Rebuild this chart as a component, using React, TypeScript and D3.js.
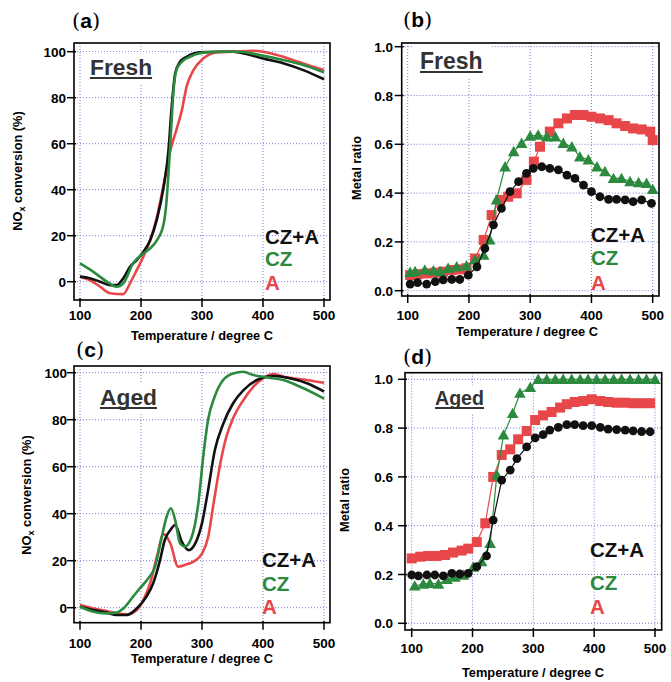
import React from "react";
import * as d3 from "d3";

// temperature ticks shared by all panels
const tempTicks = [100, 200, 300, 400, 500];
const noxTicks = [0, 20, 40, 60, 80, 100];
const ratioTicks = [0, 0.2, 0.4, 0.6, 0.8, 1.0];
const legendNames = ["CZ+A", "CZ", "A"];

// (a) fresh NOx conversion
const freshNoxCZA = [[100,2.2],[116,1.5],[133,0],[149,-1.5],[160,-1.5],[171,1.5],[182,6.5],[193,9.4],[204,13],[215,18],[226,27],[237,41],[245,57],[250,75],[256,90.5],[264,95.6],[275,97.8],[297,99.7],[324,100],[351,100],[373,99],[400,97],[433,95],[466,92],[500,88]];
const freshNoxCZ = [[100,8],[122,4.3],[144,0],[160,-2.2],[171,-0.7],[187,8],[204,12.3],[215,14.5],[226,18],[237,25],[242,35.5],[245,47],[249,64.5],[253,82],[258,92],[267,95.6],[280,97.8],[302,99.6],[330,100],[362,100],[395,98.5],[433,96.4],[466,94.2],[500,91]];
const freshNoxA = [[100,2.2],[116,0.7],[133,-2.2],[149,-5],[171,-5.4],[182,-0.7],[193,5],[204,11],[215,18],[226,28],[237,42],[248,57],[258,66],[267,74.6],[275,85],[286,92],[302,97],[324,99.7],[351,100],[384,100.4],[417,99],[449,96.4],[482,93.5],[500,92]];

// (b) fresh metal ratio
const freshRatioCZA = [[104,0.027],[116,0.033],[131,0.027],[145,0.037],[158,0.044],[172,0.046],[185,0.046],[199,0.064],[213,0.098],[226,0.173],[240,0.27],[253,0.337],[267,0.406],[281,0.447],[294,0.481],[305,0.501],[319,0.508],[332,0.501],[346,0.495],[360,0.474],[373,0.46],[387,0.433],[400,0.406],[414,0.385],[428,0.374],[441,0.374],[455,0.372],[468,0.365],[482,0.372],[498,0.358]];
const freshRatioCZ = [[104,0.075],[112,0.078],[128,0.085],[142,0.082],[153,0.078],[166,0.092],[180,0.098],[196,0.102],[210,0.126],[224,0.146],[234,0.208],[245,0.372],[259,0.508],[273,0.57],[286,0.604],[300,0.634],[313,0.638],[327,0.631],[341,0.631],[354,0.604],[368,0.59],[381,0.549],[395,0.536],[409,0.508],[422,0.488],[436,0.46],[449,0.46],[463,0.447],[477,0.443],[490,0.44],[500,0.415]];
const freshRatioA = [[104,0.064],[117,0.068],[131,0.071],[145,0.074],[158,0.078],[172,0.085],[185,0.087],[196,0.092],[210,0.132],[224,0.208],[237,0.31],[251,0.372],[264,0.385],[278,0.399],[294,0.454],[306,0.529],[316,0.59],[332,0.652],[346,0.686],[360,0.706],[373,0.72],[387,0.72],[400,0.713],[414,0.706],[428,0.699],[441,0.686],[455,0.675],[468,0.665],[482,0.661],[496,0.652],[500,0.617]];

// (c) aged NOx conversion
const agedNoxCZA = [[100,0.4],[122,-1],[144,-2.1],[160,-3.1],[177,-3.1],[193,-0.3],[209,4.7],[220,10.4],[231,20],[239,28.8],[248,33],[256,35.2],[267,28],[278,24.5],[289,27.4],[300,36],[310,50],[321,67],[335,78.4],[351,87],[368,92.6],[390,96.9],[417,98.6],[444,97.6],[472,95.5],[500,92]];
const agedNoxCZ = [[100,0.4],[122,-1.7],[144,-2.4],[160,-2.1],[171,-0.3],[187,4.7],[198,8.2],[212,12.5],[223,17.4],[234,30],[242,38.7],[249,42.3],[256,37.3],[264,27.4],[272,26],[283,30],[294,44.4],[302,64.3],[310,80],[321,90],[335,97],[351,99.7],[368,100.4],[384,99],[406,98],[433,96.9],[461,94],[500,89]];
const agedNoxA = [[100,1.1],[122,-0.3],[144,-1.4],[160,-2.4],[177,-2.8],[193,-1],[204,3.3],[215,10.4],[226,21.7],[237,31.3],[248,27.4],[261,17.4],[272,18.2],[286,19.6],[300,23],[310,30],[319,44.4],[330,61.4],[340,72.8],[351,80.6],[368,88.4],[384,94],[400,97.6],[417,99.4],[439,98],[472,96.9],[500,95.7]];

// (d) aged metal ratio
const agedRatioCZA = [[100,0.198],[111,0.194],[125,0.198],[138,0.198],[152,0.194],[166,0.205],[179,0.202],[193,0.205],[207,0.232],[223,0.276],[234,0.423],[248,0.587],[262,0.628],[273,0.675],[289,0.723],[303,0.76],[316,0.773],[327,0.792],[341,0.803],[355,0.814],[368,0.814],[382,0.81],[396,0.81],[410,0.803],[423,0.796],[437,0.794],[451,0.792],[464,0.789],[478,0.786],[492,0.785]];
const agedRatioCZ = [[105,0.153],[119,0.161],[130,0.164],[144,0.161],[158,0.18],[171,0.189],[185,0.198],[201,0.23],[215,0.253],[229,0.328],[240,0.608],[251,0.772],[266,0.86],[278,0.943],[295,0.967],[308,1.0],[322,1.0],[336,1.0],[349,1.0],[363,1.0],[377,1.0],[390,1.0],[404,1.0],[418,1.0],[432,1.0],[445,1.0],[459,1.0],[473,1.0],[486,1.0],[500,1.0]];
const agedRatioA = [[100,0.266],[114,0.273],[127,0.276],[141,0.276],[155,0.28],[168,0.29],[182,0.298],[193,0.306],[207,0.333],[221,0.41],[234,0.6],[248,0.69],[262,0.713],[275,0.754],[289,0.788],[303,0.833],[316,0.852],[330,0.866],[344,0.884],[355,0.898],[368,0.907],[382,0.911],[396,0.918],[410,0.911],[423,0.907],[437,0.904],[451,0.904],[464,0.902],[478,0.902],[492,0.902]];

const BLACK = "#111111";
const GREEN = "#2b8a3e";
const RED = "#e8474a";
const GRID = "#7a7ad6";
const FONT = "'Liberation Sans', Arial, sans-serif";

const panels = [
  {
    id: "a", label: "a", labelX: 72, labelY: 28,
    xr: [80, 324], yr: [281.7, 51.7], yMax: 100, box: [74, 43, 330, 300],
    yTicks: noxTicks, fmt: (d) => String(d), tickY: 320, tickRight: 66,
    xTitle: [202, 340], yTitle: [18, 171], metal: false,
    tag: "Fresh", tagX: 90, tagY: 75, tagSize: 22.8, legX: 265, legY: [244, 266, 290],
    // draw order: A, CZ+A, CZ
    series: [{ d: freshNoxA, c: RED }, { d: freshNoxCZA, c: BLACK }, { d: freshNoxCZ, c: GREEN }],
  },
  {
    id: "b", label: "b", labelX: 403, labelY: 27,
    xr: [407.7, 652.7], yr: [290.7, 46.7], yMax: 1, box: [401.7, 43, 659, 296],
    yTicks: ratioTicks, fmt: d3.format(".1f"), tickY: 320, tickRight: 393,
    xTitle: [527, 336], yTitle: [357, 168], metal: true,
    tag: "Fresh", tagX: 420, tagY: 69, tagSize: 23, legX: 591, legY: [242, 265, 290],
    series: [
      { d: freshRatioA, c: RED, m: "square" },
      { d: freshRatioCZ, c: GREEN, m: "triangle" },
      { d: freshRatioCZA, c: BLACK, m: "circle" },
    ],
  },
  {
    id: "c", label: "c", labelX: 76, labelY: 357,
    xr: [80, 324], yr: [607.7, 372.7], yMax: 100, box: [74, 366, 330, 622.7],
    yTicks: noxTicks, fmt: (d) => String(d), tickY: 648, tickRight: 67,
    xTitle: [202, 663], yTitle: [27, 495], metal: false,
    tag: "Aged", tagX: 100, tagY: 405, tagSize: 22.8, legX: 262, legY: [567, 591, 614],
    series: [{ d: agedNoxA, c: RED }, { d: agedNoxCZA, c: BLACK }, { d: agedNoxCZ, c: GREEN }],
  },
  {
    id: "d", label: "d", labelX: 403, labelY: 364,
    xr: [411.7, 655], yr: [623.3, 379.3], yMax: 1, box: [405, 372.7, 661.7, 630],
    yTicks: ratioTicks, fmt: d3.format(".1f"), tickY: 653, tickRight: 393,
    xTitle: [533, 677], yTitle: [345, 500], metal: true,
    tag: "Aged", tagX: 435, tagY: 405, tagSize: 19.6, legX: 590, legY: [557, 590, 614],
    series: [
      { d: agedRatioA, c: RED, m: "square" },
      { d: agedRatioCZ, c: GREEN, m: "triangle" },
      { d: agedRatioCZA, c: BLACK, m: "circle" },
    ],
  },
];

function Marker({ kind, x, y, color }) {
  if (kind === "circle") return <circle cx={x} cy={y} r={4.4} fill={color} />;
  if (kind === "square") return <rect x={x - 5} y={y - 5} width={10} height={10} fill={color} />;
  const s = 5.8;
  return <path d={`M${x},${y - s}L${x + s},${y + s * 0.8}L${x - s},${y + s * 0.8}Z`} fill={color} />;
}

function Panel({ p }) {
  const x = d3.scaleLinear().domain([100, 500]).range(p.xr);
  const y = d3.scaleLinear().domain([0, p.yMax]).range(p.yr);
  const [l, t, r, b] = p.box;
  const line = d3
    .line()
    .x((d) => x(d[0]))
    .y((d) => y(d[1]))
    .curve(p.metal ? d3.curveLinear : d3.curveMonotoneX);
  const tagW = p.tagSize * (p.tag === "Fresh" ? 2.723 : 2.5);

  return (
    <g>
      {/* grid */}
      {tempTicks.map((v) => (
        <line key={"gx" + v} x1={x(v)} x2={x(v)} y1={t} y2={b} stroke={GRID} strokeWidth={1} strokeDasharray="1,2" />
      ))}
      {p.yTicks.map((v) => (
        <line key={"gy" + v} x1={l} x2={r} y1={y(v)} y2={y(v)} stroke={GRID} strokeWidth={1} strokeDasharray="1,2" />
      ))}
      <rect x={p.tagX - 8} y={p.tagY - p.tagSize} width={tagW + 16} height={p.tagSize + 8} fill="white" />

      {/* series */}
      {p.series.map((s, i) => (
        <g key={i}>
          <path d={line(s.d)} fill="none" stroke={s.c} strokeWidth={p.metal ? 1.2 : 2.6} strokeLinejoin="round" />
          {p.metal && s.d.map((d, j) => <Marker key={j} kind={s.m} x={x(d[0])} y={y(d[1])} color={s.c} />)}
        </g>
      ))}

      {/* frame */}
      <rect x={l} y={t} width={r - l} height={b - t} fill="none" stroke="#000" strokeWidth={1.6} />

      {/* axes */}
      {tempTicks.map((v) => (
        <g key={"tx" + v}>
          <line x1={x(v)} x2={x(v)} y1={b - 2} y2={b + 7} stroke="#000" strokeWidth={1.5} />
          <text x={x(v)} y={p.tickY} textAnchor="middle" fontSize={13.5} fontWeight="bold" fontFamily={FONT}>{v}</text>
        </g>
      ))}
      {p.yTicks.map((v) => (
        <g key={"ty" + v}>
          <line x1={l - 7} x2={l + 2} y1={y(v)} y2={y(v)} stroke="#000" strokeWidth={1.5} />
          <text x={p.tickRight} y={y(v) + 5} textAnchor="end" fontSize={13.5} fontWeight="bold" fontFamily={FONT}>{p.fmt(v)}</text>
        </g>
      ))}

      <text x={p.xTitle[0]} y={p.xTitle[1]} textAnchor="middle" fontSize={12.8} fontWeight="bold" fontFamily={FONT}>
        Temperature / degree C
      </text>
      <text transform={`translate(${p.yTitle[0] + 4},${p.yTitle[1]}) rotate(-90)`} textAnchor="middle" fontSize={12.8} fontWeight="bold" fontFamily={FONT}>
        {p.metal ? "Metal ratio" : (
          <>
            NO<tspan fontSize={9} dy={3}>x</tspan><tspan dy={-3}> conversion (%)</tspan>
          </>
        )}
      </text>

      {/* panel label */}
      <text x={p.labelX} y={p.labelY} fontSize={21} fontFamily={FONT}>
        <tspan fontFamily="'DejaVu Serif', serif" fontWeight="normal">(</tspan>
        <tspan fontWeight="bold">{p.label}</tspan>
        <tspan fontFamily="'DejaVu Serif', serif" fontWeight="normal">)</tspan>
      </text>

      {/* Fresh / Aged tag */}
      <text x={p.tagX} y={p.tagY} fontSize={p.tagSize} fontWeight="bold" fill="#333" fontFamily={FONT}>{p.tag}</text>
      <line x1={p.tagX} x2={p.tagX + tagW} y1={p.tagY + 3} y2={p.tagY + 3} stroke="#333" strokeWidth={2} />

      {/* legend */}
      {legendNames.map((n, i) => (
        <text key={n} x={p.legX} y={p.legY[i]} fontSize={20.5} fontWeight="bold" fontFamily={FONT} fill={[BLACK, GREEN, RED][i]}>{n}</text>
      ))}
    </g>
  );
}

export default function App() {
  return (
    <svg width={671} height={682} style={{ position: "absolute", left: 0, top: 0, background: "white" }}>
      {panels.map((p) => (
        <Panel key={p.id} p={p} />
      ))}
    </svg>
  );
}
